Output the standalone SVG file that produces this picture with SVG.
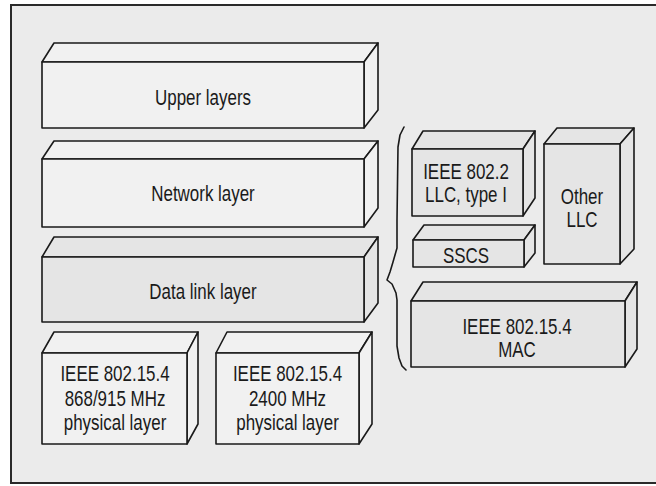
<svg xmlns="http://www.w3.org/2000/svg" width="656" height="486" viewBox="0 0 656 486">
  <style>
    .frame { fill: #ebebeb; stroke: #2a2a2a; stroke-width: 2; }
    .box path { stroke: #1a1a1a; stroke-width: 1.6; stroke-linejoin: round; }
    .light path { fill: #f1f1f1; }
    .mid path { fill: #e5e5e5; }
    .label { font-family: "Liberation Sans", Arial, sans-serif; font-size: 22px; fill: #1a1a1a; text-anchor: middle; }
    .brace { fill: none; stroke: #1a1a1a; stroke-width: 1.6; stroke-linejoin: round; stroke-linecap: round; }
  </style>

  <rect width="656" height="486" fill="#ffffff"/>
  <rect class="frame" x="11" y="5" width="660" height="478"/>

  <!-- Protocol stack, left -->
  <g id="upper-layers" class="box light">
    <path d="M42 62 L54 43 L378 43 L364 62 Z"/>
    <path d="M364 62 L378 43 L378 110 L364 128 Z"/>
    <path d="M42 62 H364 V128 H42 Z"/>
    <text class="label" transform="matrix(0.77 0 0 1 203 104.5)">Upper layers</text>
  </g>

  <g id="network-layer" class="box light">
    <path d="M42 159 L54 141 L378 141 L364 159 Z"/>
    <path d="M364 159 L378 141 L378 208 L364 227 Z"/>
    <path d="M42 159 H364 V227 H42 Z"/>
    <text class="label" transform="matrix(0.77 0 0 1 203 200.5)">Network layer</text>
  </g>

  <g id="data-link-layer" class="box mid">
    <path d="M42 257 L54 237 L378 237 L364 257 Z"/>
    <path d="M364 257 L378 237 L378 303 L364 322 Z"/>
    <path d="M42 257 H364 V322 H42 Z"/>
    <text class="label" transform="matrix(0.77 0 0 1 203 298.5)">Data link layer</text>
  </g>

  <g id="phy-868-915" class="box light">
    <path d="M42 353 L54 332 L198 332 L187 353 Z"/>
    <path d="M187 353 L198 332 L198 424 L187 444 Z"/>
    <path d="M42 353 H187 V444 H42 Z"/>
    <text class="label" transform="matrix(0.77 0 0 1 115 381)">IEEE 802.15.4</text>
    <text class="label" transform="matrix(0.77 0 0 1 115 405.5)">868/915 MHz</text>
    <text class="label" transform="matrix(0.77 0 0 1 115 430)">physical layer</text>
  </g>

  <g id="phy-2400" class="box light">
    <path d="M216 353 L227 332 L372 332 L359 353 Z"/>
    <path d="M359 353 L372 332 L372 424 L359 444 Z"/>
    <path d="M216 353 H359 V444 H216 Z"/>
    <text class="label" transform="matrix(0.77 0 0 1 287.5 381)">IEEE 802.15.4</text>
    <text class="label" transform="matrix(0.77 0 0 1 287.5 405.5)">2400 MHz</text>
    <text class="label" transform="matrix(0.77 0 0 1 287.5 430)">physical layer</text>
  </g>

  <!-- Data link layer breakdown, right -->
  <g id="connectors">
    <path class="brace" d="M404 127 L400 135 L398 147 L397 220 L397 248 L393 262 L390 272 L387 280 L392 284 L396 293 L397 300 L397 346 L399 358 L402 366 L406 370"/>
  </g>

  <g id="ieee-802-2-llc" class="box mid">
    <path d="M412 149 L423 131 L535 131 L523 149 Z"/>
    <path d="M523 149 L535 131 L535 198 L523 216 Z"/>
    <path d="M412 149 H523 V216 H412 Z"/>
    <text class="label" transform="matrix(0.77 0 0 1 466 179)">IEEE 802.2</text>
    <text class="label" transform="matrix(0.77 0 0 1 466 202)">LLC, type I</text>
  </g>

  <g id="other-llc" class="box mid">
    <path d="M544 144 L557 128 L634 128 L620 144 Z"/>
    <path d="M620 144 L634 128 L634 249 L620 264 Z"/>
    <path d="M544 144 H620 V264 H544 Z"/>
    <text class="label" transform="matrix(0.77 0 0 1 582 204)">Other</text>
    <text class="label" transform="matrix(0.77 0 0 1 582 227)">LLC</text>
  </g>

  <g id="sscs" class="box mid">
    <path d="M413 240 L424 225 L535 225 L524 240 Z"/>
    <path d="M524 240 L535 225 L535 253 L524 267 Z"/>
    <path d="M413 240 H524 V267 H413 Z"/>
    <text class="label" transform="matrix(0.77 0 0 1 466 263)">SSCS</text>
  </g>

  <g id="ieee-802-15-4-mac" class="box mid">
    <path d="M411 301 L423 282 L637 282 L625 301 Z"/>
    <path d="M625 301 L637 282 L637 349 L625 367 Z"/>
    <path d="M411 301 H625 V367 H411 Z"/>
    <text class="label" transform="matrix(0.77 0 0 1 517 334)">IEEE 802.15.4</text>
    <text class="label" transform="matrix(0.77 0 0 1 517 357)">MAC</text>
  </g>
</svg>
